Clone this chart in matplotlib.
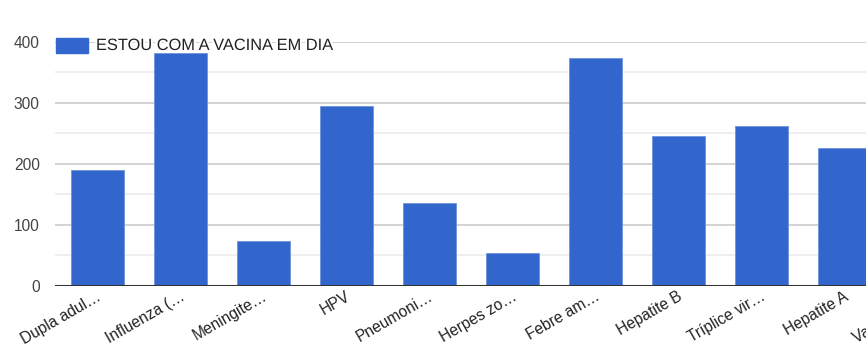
import matplotlib
matplotlib.use("Agg")
import matplotlib.pyplot as plt
import matplotlib.patheffects as pe
from matplotlib.transforms import ScaledTranslation
from matplotlib.ticker import MultipleLocator

plt.rcParams['font.family'] = ['Liberation Sans', 'DejaVu Sans']

categories = ["Dupla adul…", "Influenza (…", "Meningite…", "HPV", "Pneumoni…",
              "Herpes zo…", "Febre am…", "Hepatite B", "Tríplice vir…", "Hepatite A",
              "Varicela (c…"]
values = [189, 381, 73, 295, 135, 54, 373, 246, 261, 226]
series_name = "ESTOU COM A VACINA EM DIA"
y_ticks = [0, 100, 200, 300, 400]

BLUE = "#3366CC"
W, H, DPI = 866, 349, 100

fig = plt.figure(figsize=(W / DPI, H / DPI), dpi=DPI)

# plot area: left edge at 55 px, category spacing 83 px, runs past the right border
left_px, bottom_px, top_px = 55, 286, 41.5
step_px = 83.0
x_lo, x_hi = -0.512, 10.6
right_px = left_px + (x_hi - x_lo) * step_px
ax = fig.add_axes([left_px / W, (H - bottom_px) / H,
                   (right_px - left_px) / W, (bottom_px - top_px) / H])
ax.set_xlim(x_lo, x_hi)
ax.set_ylim(0, 400)

# gridlines: major every 100, lighter minor every 50
ax.yaxis.set_major_locator(MultipleLocator(100))
ax.yaxis.set_minor_locator(MultipleLocator(50))
ax.grid(axis='y', which='major', color='#cccccc', linewidth=1.2, zorder=0)
ax.grid(axis='y', which='minor', color='#ebebeb', linewidth=1.2, zorder=0)
ax.set_axisbelow(True)

ax.bar(range(len(values)), values, width=0.63, color=BLUE,
       edgecolor='#6f93dc', linewidth=0.6, zorder=2)

# baseline
ax.axhline(0, color='#333333', linewidth=2.2, zorder=3)

for s in ax.spines.values():
    s.set_visible(False)

ax.set_yticks(y_ticks)
ax.set_yticklabels([str(v) for v in y_ticks])
ax.tick_params(axis='y', which='both', length=0, pad=11, labelsize=11.2,
               labelcolor='#444444')

ax.set_xticks(range(len(categories)))
ax.set_xticklabels(categories, rotation=30, ha='right', va='top',
                   rotation_mode='anchor', fontsize=11.2, color='#222222')
ax.tick_params(axis='x', length=0, pad=2)
shift = ScaledTranslation(-1 / DPI, 0, fig.dpi_scale_trans)
for lbl in ax.get_xticklabels():
    lbl.set_transform(lbl.get_transform() + shift)
    lbl.set_clip_on(False)

# legend drawn over the plot area
fig.patches.append(plt.Rectangle((56 / W, (H - 53) / H), 32 / W, 15 / H,
                                 transform=fig.transFigure, color=BLUE,
                                 zorder=5))
fig.text(96 / W, (H - 45.5) / H, series_name, fontsize=11.8, color='#222222',
         ha='left', va='center', zorder=6,
         path_effects=[pe.withStroke(linewidth=3, foreground='white')])

fig.savefig("out.png", dpi=DPI)
